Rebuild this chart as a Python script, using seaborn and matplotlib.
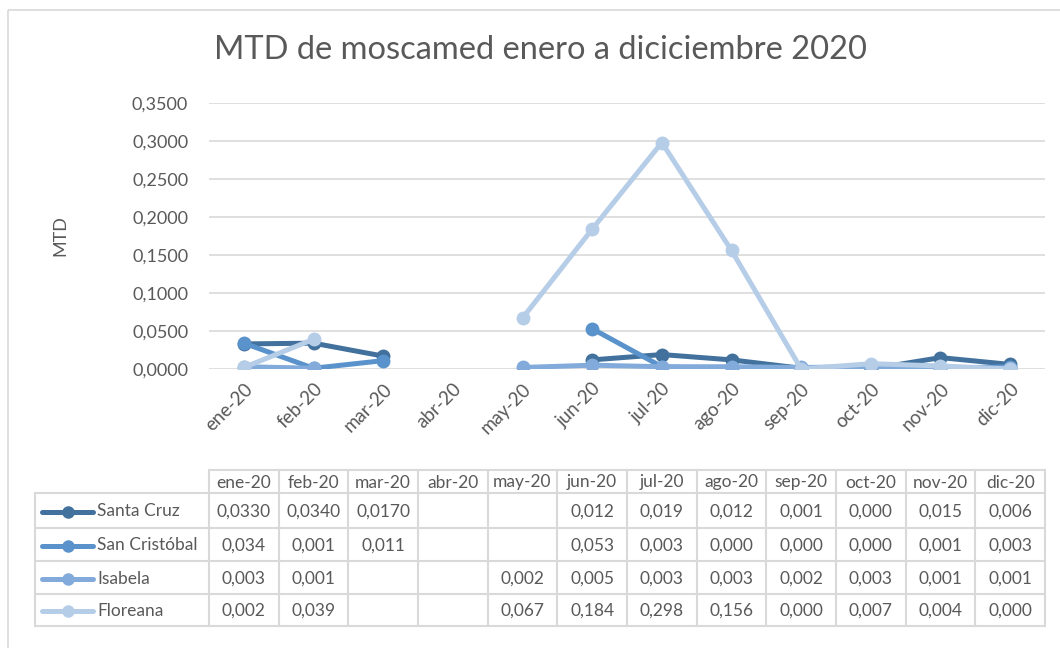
import numpy as np
import pandas as pd
import matplotlib
matplotlib.use("Agg")
import matplotlib.pyplot as plt
import seaborn as sns

meses = ['ene-20', 'feb-20', 'mar-20', 'abr-20', 'may-20', 'jun-20',
         'jul-20', 'ago-20', 'sep-20', 'oct-20', 'nov-20', 'dic-20']

santa_cruz = [0.0330, 0.0340, 0.0170, np.nan, np.nan, 0.012, 0.019, 0.012, 0.001, 0.000, 0.015, 0.006]
san_cristobal = [0.034, 0.001, 0.011, np.nan, np.nan, 0.053, 0.003, 0.000, 0.000, 0.000, 0.001, 0.003]
isabela = [0.003, 0.001, np.nan, np.nan, 0.002, 0.005, 0.003, 0.003, 0.002, 0.003, 0.001, 0.001]
floreana = [0.002, 0.039, np.nan, np.nan, 0.067, 0.184, 0.298, 0.156, 0.000, 0.007, 0.004, 0.000]

# decimales que muestra la tabla de datos
santa_cruz_dec = [4, 4, 4, 3, 3, 3, 3, 3, 3, 3, 3, 3]

series = {
    'Santa Cruz': santa_cruz,
    'San Cristóbal': san_cristobal,
    'Isabela': isabela,
    'Floreana': floreana,
}
colores = {
    'Santa Cruz': '#41719C',
    'San Cristóbal': '#5A93CB',
    'Isabela': '#82ABDB',
    'Floreana': '#B6CDE8',
}

# formato largo, con un id de tramo para cortar la linea donde falta el dato
filas = []
for nombre, vals in series.items():
    tramo = 0
    for i, v in enumerate(vals):
        if np.isnan(v):
            tramo += 1
            continue
        filas.append({'mes': i, 'MTD': v, 'isla': nombre, 'tramo': tramo})
df = pd.DataFrame(filas)

sns.set_style('white')
plt.rcParams['font.family'] = ['Lato', 'DejaVu Sans']
gris = '#595959'

W, H = 1060, 648
fig = plt.figure(figsize=(W / 100, H / 100), dpi=100)

# capa de fondo en pixeles para el borde y la tabla
bg = fig.add_axes([0, 0, 1, 1])
bg.set_xlim(0, W)
bg.set_ylim(H, 0)
bg.axis('off')
bg.add_patch(plt.Rectangle((8, 10), 1070, 660, fill=False, edgecolor='#D9D9D9', lw=1.2))

x0, x1 = 209, 1045
y_top, y_bot = 103, 369
ax = fig.add_axes([x0 / W, 1 - y_bot / H, (x1 - x0) / W, (y_bot - y_top) / H])

sns.lineplot(
    data=df, x='mes', y='MTD', hue='isla', units='tramo', estimator=None,
    palette=colores, hue_order=list(series.keys()), marker='o', markersize=10,
    markeredgewidth=0, linewidth=3.6, legend=False, ax=ax, sort=False
)

ax.set_xlim(-0.5, 11.5)
ax.set_ylim(0, 0.35)
ax.set_yticks(np.arange(0, 0.3501, 0.05))
ax.set_yticklabels([f'{v:.4f}'.replace('.', ',') for v in np.arange(0, 0.3501, 0.05)],
                   color=gris, fontsize=13)
ax.set_xticks(range(12))
ax.set_xticklabels(meses, rotation=45, ha='right', va='top', rotation_mode='anchor',
                   color=gris, fontsize=13.5)
ax.tick_params(axis='x', pad=8, length=0)
ax.tick_params(axis='y', pad=15, length=0)
ax.grid(axis='y', color='#D9D9D9', lw=1.2)
ax.set_axisbelow(True)
for s in ax.spines.values():
    s.set_visible(False)
ax.set_xlabel('')
ax.set_ylabel('')
ax.patch.set_alpha(0)

fig.text(60 / W, 1 - 236 / H, 'MTD', rotation=90, ha='center', va='center', color=gris, fontsize=13)
fig.text(540 / W, 1 - 50 / H, 'MTD de moscamed enero a diciciembre 2020', ha='center', va='center',
         color=gris, fontsize=23.5)

# tabla de datos
linea = '#D9D9D9'
col_w = (x1 - x0) / 12
filas_y = [470, 493, 528, 561, 594, 626]
bg.plot([x0, x1], [filas_y[0], filas_y[0]], color=linea, lw=1.5)
for yy in filas_y[1:]:
    bg.plot([35, x1], [yy, yy], color=linea, lw=1.5)
bg.plot([35, 35], [filas_y[1], filas_y[-1]], color=linea, lw=1.5)
for j in range(13):
    xx = x0 + j * col_w
    bg.plot([xx, xx], [filas_y[0], filas_y[-1]], color=linea, lw=1.5)

for j, m in enumerate(meses):
    bg.text(x0 + (j + 0.5) * col_w, (filas_y[0] + filas_y[1]) / 2 + 1, m, ha='center', va='center',
            color=gris, fontsize=12.5)

for r, (nombre, vals) in enumerate(series.items()):
    yc = (filas_y[r + 1] + filas_y[r + 2]) / 2 + 1
    bg.plot([42, 93], [yc, yc], color=colores[nombre], lw=3.6, solid_capstyle='round')
    bg.plot([68], [yc], 'o', color=colores[nombre], markersize=9, markeredgewidth=0)
    bg.text(97, yc, nombre, ha='left', va='center', color=gris, fontsize=12.5)
    for j, v in enumerate(vals):
        if np.isnan(v):
            continue
        dec = santa_cruz_dec[j] if nombre == 'Santa Cruz' else 3
        txt = f'{v:.{dec}f}'.replace('.', ',')
        bg.text(x0 + (j + 0.5) * col_w, yc, txt, ha='center', va='center', color=gris, fontsize=12.5)

fig.savefig('out.png', dpi=100)
